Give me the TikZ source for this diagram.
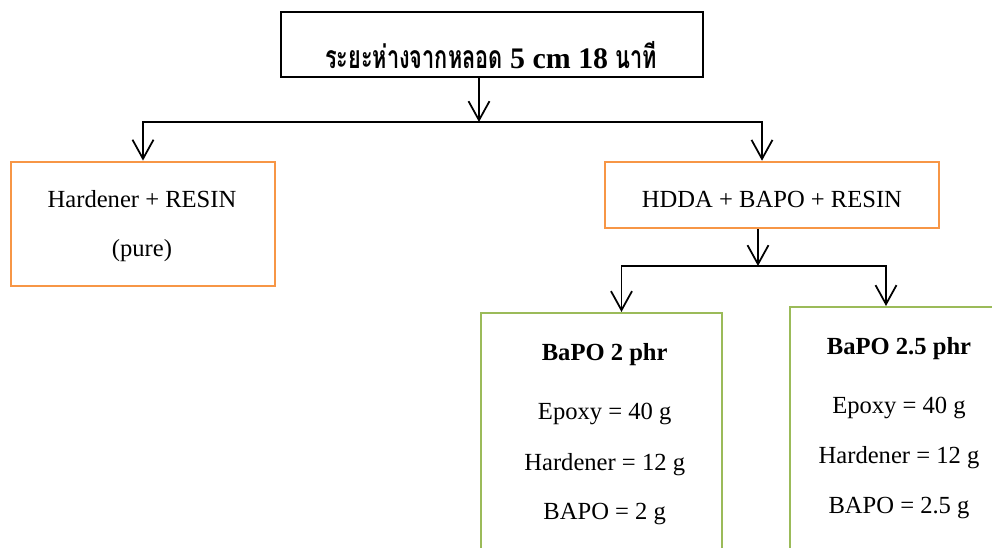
\documentclass[tikz,border=0pt]{standalone}
\usepackage{fontspec}
\setmainfont{Liberation Serif}
\newfontfamily\thaifont[Script=Thai, Scale=1.07, FakeStretch=0.68]{Loma}
\usetikzlibrary{arrows.meta}
\definecolor{boxorange}{HTML}{F79646}
\definecolor{boxgreen}{HTML}{9BBB59}
\tikzset{
  box/.style={draw, line width=1pt, inner sep=0pt},
  mixbox/.style={box, draw=boxorange, line width=1.2pt},
  ratiobox/.style={box, draw=boxgreen, line width=1.2pt},
  txt/.style={anchor=base, inner sep=0pt, font=\fontsize{14}{17}\selectfont},
  boldtxt/.style={anchor=base, inner sep=0pt, font=\fontsize{14}{17}\selectfont\bfseries},
  titletxt/.style={anchor=base, inner sep=0pt, font=\fontsize{17}{20}\selectfont\bfseries},
  arrow/.style={-{Straight Barb[length=3.8mm, width=4.2mm]}, line width=1pt}
}

\begin{document}
\begin{tikzpicture}[x=0.02cm, y=-0.02cm]
    \useasboundingbox (0,0) rectangle (992,548);
    \clip (0,0) rectangle (992,548);

    \node[box, minimum width=8.44cm, minimum height=1.3cm] (distance) at (492,44.5) {};
    \node[titletxt] (distance-text) at (491,68) {{\thaifont ระยะห่างจากหลอด} 5 cm 18 {\thaifont นาที}};

    \node[mixbox, minimum width=5.28cm, minimum height=2.48cm] (pure) at (143,223.6) {};
    \node[txt] (pure-text1) at (142,207.7) {Hardener + RESIN};
    \node[txt] (pure-text2) at (142,256) {(pure)};

    \node[mixbox, minimum width=6.68cm, minimum height=1.33cm] (hdda) at (772,195) {};
    \node[txt] (hdda-text) at (772,207.7) {HDDA + BAPO + RESIN};

    \node[ratiobox, minimum width=4.82cm, minimum height=4.94cm] (bapotwo) at (601.5,436.5) {};
    \node[boldtxt] (bapotwo-title) at (604.7,360) {BaPO 2 phr};
    \node[txt] (bapotwo-epoxy) at (604.7,419) {Epoxy = 40 g};
    \node[txt] (bapotwo-hardener) at (604.7,470) {Hardener = 12 g};
    \node[txt] (bapotwo-bapo) at (604.7,519) {BAPO = 2 g};

    \node[ratiobox, minimum width=4.36cm, minimum height=5.06cm] (bapotwofive) at (899,433.5) {};
    \node[boldtxt] (bapotwofive-title) at (899,354) {BaPO 2.5 phr};
    \node[txt] (bapotwofive-epoxy) at (899,413) {Epoxy = 40 g};
    \node[txt] (bapotwofive-hardener) at (899,463) {Hardener = 12 g};
    \node[txt] (bapotwofive-bapo) at (899,513) {BAPO = 2.5 g};

    \coordinate (split) at (479,122);
    \coordinate (split2) at (758,266);

    \draw[arrow] (distance.south -| split) -- (split);
    \draw[arrow] (split) -| (pure.north);
    \draw[arrow] (split) -| ([xshift=-0.2cm]hdda.north);
    \draw[arrow] (hdda.south -| split2) -- (split2);
    \draw[arrow] (split2) -| ([xshift=0.4cm]bapotwo.north);
    \draw[arrow] (split2) -| ([xshift=-0.26cm]bapotwofive.north);
\end{tikzpicture}
\end{document}
